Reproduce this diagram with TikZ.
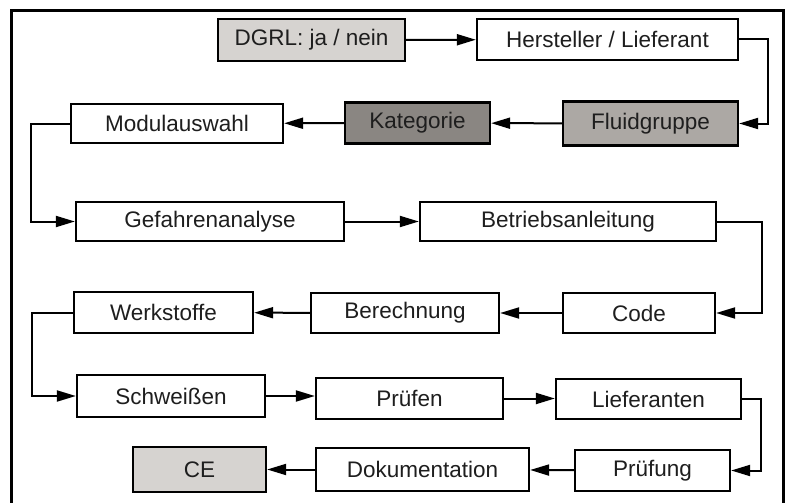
\documentclass[tikz,border=0pt]{standalone}
\usepackage{fontspec}
\setmainfont{Liberation Sans}
\usepackage{tikz}
\usetikzlibrary{arrows.meta}

\definecolor{lightfill}{RGB}{214,211,208}
\definecolor{midfill}{RGB}{172,168,164}
\definecolor{darkfill}{RGB}{138,134,130}
\definecolor{textgray}{RGB}{30,30,30}

\begin{document}
\begin{tikzpicture}[x=1pt, y=-1pt,
        box/.style = {draw, line width=2.3pt, fill=white, inner sep=0pt, text=textgray,
                      font=\fontsize{22.5}{27}\selectfont},
        flow/.style = {line width=2pt, -{Triangle[length=19pt,width=11pt]}}]
                \useasboundingbox (0,0) rectangle (787,503);
                \draw[line width=3pt] (11,503) -- (11,11) -- (783,11) -- (783,503);

                \node[box, fill=lightfill, minimum width=187, minimum height=42] at (311.5, 40) (dgrl) {DGRL: ja / nein};
                \node[box, minimum width=261, minimum height=41] at (607.5, 39.5) (hersteller) {Hersteller / Lieferant};
                \node[box, fill=midfill, minimum width=175, minimum height=44] at (650.5, 123.5) (fluid) {Fluidgruppe};
                \node[box, fill=darkfill, minimum width=145, minimum height=41] at (417.5, 123) (kategorie) {Kategorie};
                \node[box, minimum width=212, minimum height=39] at (177, 123.5) (modul) {Modulauswahl};

                \node[box, minimum width=268, minimum height=39] at (210, 221.5) (gefahr) {Gefahrenanalyse};
                \node[box, minimum width=296, minimum height=39] at (568, 221.5) (betrieb) {Betriebsanleitung};

                \node[box, minimum width=152, minimum height=40] at (639, 313) (code) {Code};
                \node[box, minimum width=188, minimum height=40] at (405, 313) (berech) {Berechnung};
                \node[box, minimum width=179, minimum height=41] at (163.5, 312.5) (werk) {Werkstoffe};

                \node[box, minimum width=188, minimum height=42] at (171, 396) (schweiss) {Schweißen};
                \node[box, minimum width=187, minimum height=41] at (409.5, 398.5) (pruefen) {Prüfen};
                \node[box, minimum width=185, minimum height=40] at (648.5, 399) (liefer) {Lieferanten};

                \node[box, minimum width=155, minimum height=41] at (652.5, 470.5) (pruefung) {Prüfung};
                \node[box, minimum width=213, minimum height=43] at (422.5, 469.5) (doku) {Dokumentation};
                \node[box, fill=lightfill, minimum width=133, minimum height=45] at (199.5, 469.5) (ce) {CE};

                \draw[flow] (dgrl) -- (hersteller);
                \draw[flow] (hersteller.east) -- ++(29,0) |- (fluid.east);
                \draw[flow] (fluid) -- (kategorie);
                \draw[flow] (kategorie) -- (modul);
                \draw[flow] (modul.west) -- ++(-39,0) |- (gefahr.west);

                \draw[flow] (gefahr) -- (betrieb);
                \draw[flow] (betrieb.east) -- ++(45,0) |- (code.east);
                \draw[flow] (code) -- (berech);
                \draw[flow] (berech) -- (werk);
                \draw[flow] (werk.west) -- ++(-41,0) |- (schweiss.west);

                \draw[flow] (schweiss.east) -- (schweiss.east -| pruefen.west);
                \draw[flow] (pruefen.east) -- (pruefen.east -| liefer.west);
                \draw[flow] (liefer.east) -- ++(19,0) |- (pruefung.east);
                \draw[flow] (pruefung) -- (doku);
                \draw[flow] (doku) -- (ce);
            \end{tikzpicture}
\end{document}
